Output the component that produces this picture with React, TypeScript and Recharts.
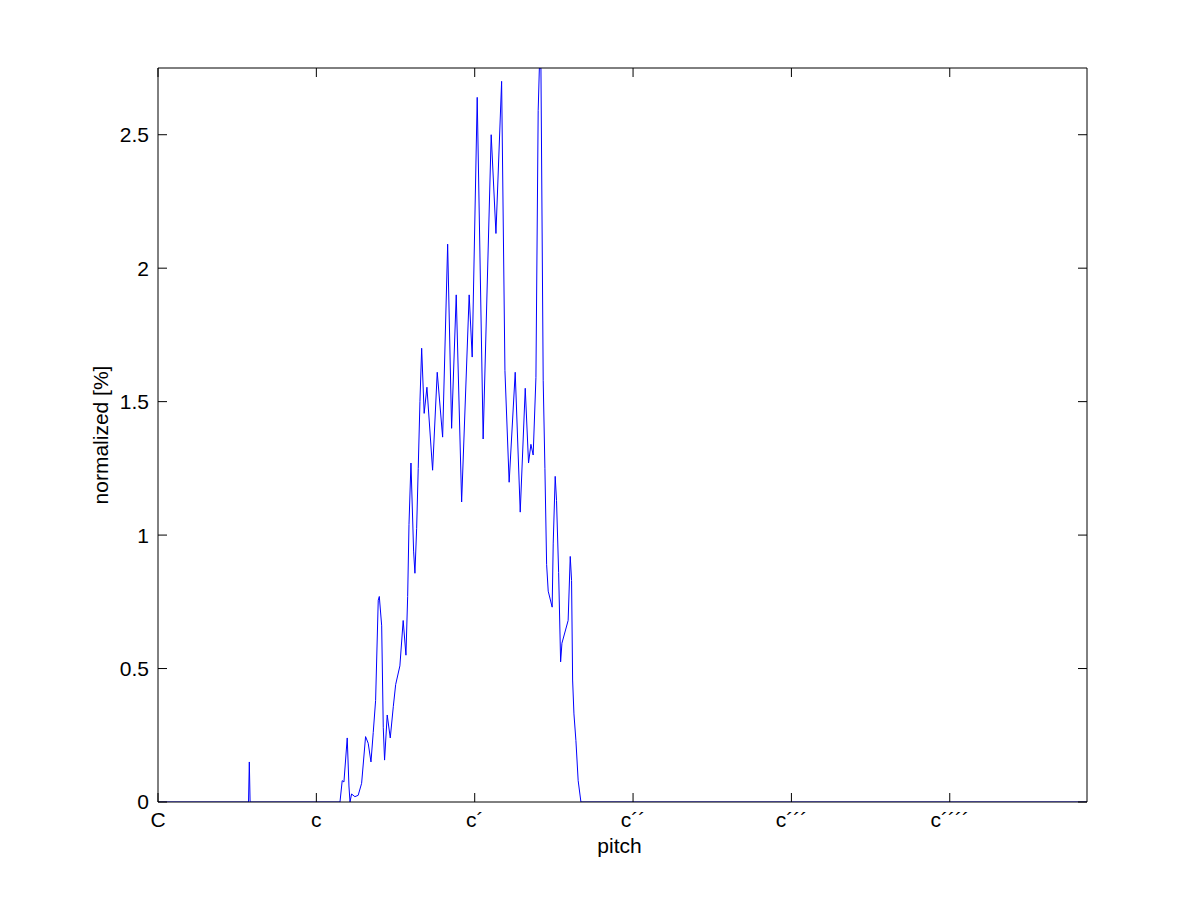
import { LineChart, Line, XAxis, YAxis, Label } from "recharts";

// pitch in semitones above C (C = 0, c = 12, c´ = 24 ...)
const pitch = [
  0, 6.86, 6.92, 6.98, 13.79, 13.96, 14.09, 14.34, 14.47, 14.55, 14.67, 14.92,
  15.17, 15.43, 15.73, 15.93, 16.14, 16.31, 16.49, 16.69, 16.77, 16.95, 17.07,
  17.17, 17.37, 17.6, 17.83, 18.01, 18.33, 18.58, 18.79, 18.92, 19.02, 19.17,
  19.37, 19.47, 19.6, 19.72, 19.85, 19.98, 20.17, 20.38, 20.81, 21.16, 21.57,
  21.95, 22.25, 22.6, 23.01, 23.58, 23.81, 24.19, 24.64, 25.25, 25.61, 26.04,
  26.29, 26.61, 27.07, 27.45, 27.83, 28.08, 28.26, 28.43, 28.64, 28.81, 28.9,
  29.02, 29.19, 29.32, 29.45, 29.57, 29.87, 29.95, 30.1, 30.2, 30.36, 30.51,
  30.61, 31.08, 31.24, 31.34, 31.42, 31.52, 31.67, 31.84, 32.05, 70.4,
];

const level = [
  0, 0, 0.15, 0, 0, 0.08, 0.075, 0.24, 0.06, 0, 0.03, 0.02,
  0.025, 0.07, 0.245, 0.22, 0.15, 0.26, 0.38, 0.756, 0.77, 0.66, 0.28,
  0.157, 0.326, 0.24, 0.357, 0.44, 0.51, 0.68, 0.55, 0.77, 1.04, 1.27,
  0.94, 0.857, 1.025, 1.25, 1.5, 1.7, 1.456, 1.554, 1.243, 1.61, 1.367,
  2.09, 1.4, 1.9, 1.124, 1.9, 1.667, 2.64, 1.36, 2.5, 2.13, 2.7,
  1.617, 1.198, 1.61, 1.086, 1.55, 1.27, 1.34, 1.3, 1.59, 2.59, 2.75,
  2.75, 1.58, 1.25, 0.89, 0.79, 0.73, 0.97, 1.22, 1.13, 0.86, 0.525,
  0.595, 0.68, 0.92, 0.83, 0.457, 0.33, 0.23, 0.08, 0, 0,
];

const pitchTicks = [0, 12, 24, 36, 48, 60];
const pitchNames = ["C", "c", "c\u00b4", "c\u00b4\u00b4", "c\u00b4\u00b4\u00b4", "c\u00b4\u00b4\u00b4\u00b4"];
const levelTicks = [0, 0.5, 1, 1.5, 2, 2.5];

const data = pitch.map((p, i) => ({ p, v: level[i] }));

const FONT = "Arial, 'Liberation Sans', sans-serif";
const tickFont = { fontSize: 21, fill: "#000", fontFamily: FONT };
const noLabel = () => <g />;

export default function App() {
  return (
    <div style={{ position: "absolute", left: 0, top: 0, background: "#fff" }}>
      <LineChart
        width={1201}
        height={901}
        data={data}
        margin={{ top: 68, right: 114, bottom: 69, left: 98 }}
      >
        <XAxis
          xAxisId="b"
          dataKey="p"
          type="number"
          domain={[0, 70.4]}
          allowDataOverflow
          ticks={pitchTicks}
          interval={0}
          tickFormatter={(t) => pitchNames[pitchTicks.indexOf(t)] ?? ""}
          tick={tickFont}
          tickLine={false}
          tickSize={0}
          tickMargin={10}
          axisLine={{ stroke: "#000" }}
          height={30}
        >
          <Label
            content={(props: any) => {
              const vb = props.viewBox || { x: 158, y: 802, width: 929 };
              return (
                <text
                  x={vb.x + vb.width / 2 - 3}
                  y={vb.y + 51}
                  textAnchor="middle"
                  fontSize={21}
                  fontFamily={FONT}
                  fill="#000"
                >
                  pitch
                </text>
              );
            }}
          />
        </XAxis>
        <XAxis
          xAxisId="bt"
          dataKey="p"
          type="number"
          domain={[0, 70.4]}
          allowDataOverflow
          ticks={pitchTicks}
          interval={0}
          orientation="bottom"
          mirror
          tick={noLabel}
          tickSize={9}
          tickLine={{ stroke: "#000" }}
          axisLine={false}
        />
        <XAxis
          xAxisId="t"
          dataKey="p"
          type="number"
          domain={[0, 70.4]}
          allowDataOverflow
          ticks={pitchTicks}
          interval={0}
          orientation="top"
          mirror
          tick={noLabel}
          tickSize={9}
          tickLine={{ stroke: "#000" }}
          axisLine={{ stroke: "#000" }}
        />
        <YAxis
          yAxisId="l"
          type="number"
          domain={[0, 2.75]}
          allowDataOverflow
          ticks={levelTicks}
          interval={0}
          tick={tickFont}
          tickLine={false}
          tickSize={0}
          tickMargin={9}
          axisLine={{ stroke: "#000" }}
          width={60}
        >
          <Label
            content={(props: any) => {
              const vb = props.viewBox || { x: 98, y: 68, height: 734 };
              const cx = vb.x + 10;
              const cy = vb.y + vb.height / 2;
              return (
                <text
                  x={cx}
                  y={cy}
                  transform={`rotate(-90 ${cx} ${cy})`}
                  textAnchor="middle"
                  fontSize={21}
                  fontFamily={FONT}
                  fill="#000"
                >
                  normalized [%]
                </text>
              );
            }}
          />
        </YAxis>
        <YAxis
          yAxisId="lt"
          type="number"
          domain={[0, 2.75]}
          allowDataOverflow
          ticks={levelTicks}
          interval={0}
          orientation="left"
          mirror
          tick={noLabel}
          tickSize={9}
          tickLine={{ stroke: "#000" }}
          axisLine={false}
        />
        <YAxis
          yAxisId="r"
          type="number"
          domain={[0, 2.75]}
          allowDataOverflow
          ticks={levelTicks}
          interval={0}
          orientation="right"
          mirror
          tick={noLabel}
          tickSize={9}
          tickLine={{ stroke: "#000" }}
          axisLine={{ stroke: "#000" }}
        />
        <Line
          xAxisId="b"
          yAxisId="l"
          type="linear"
          dataKey="v"
          stroke="#0000ff"
          strokeWidth={1}
          dot={false}
          activeDot={false}
          isAnimationActive={false}
        />
      </LineChart>
    </div>
  );
}
